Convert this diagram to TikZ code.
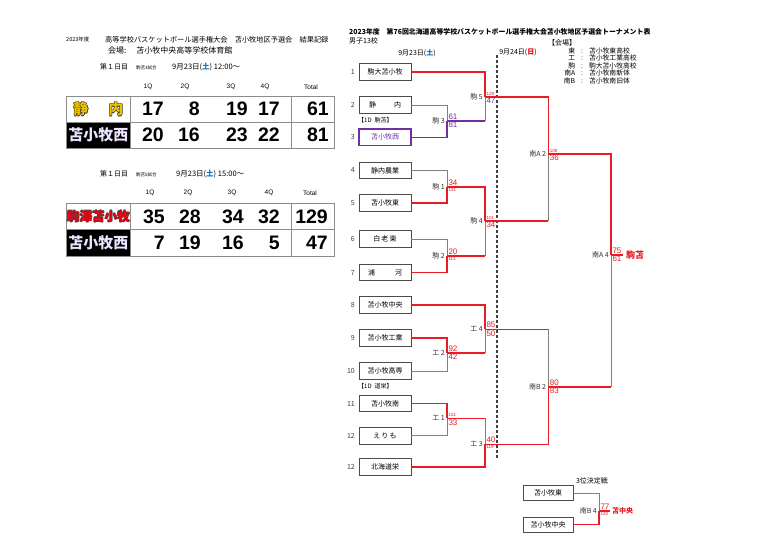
\documentclass[tikz,border=0pt]{standalone}
\usepackage{fontspec}
\setmainfont{Liberation Sans}
\newfontfamily\jp{Noto Sans CJK JP}
\usetikzlibrary{positioning}

\definecolor{winred}{RGB}{232,28,36}
\definecolor{nishi}{RGB}{112,48,160}
\definecolor{nishiwhite}{RGB}{236,228,255}
\definecolor{satblue}{RGB}{0,112,192}
\definecolor{sunred}{RGB}{230,0,18}
\definecolor{shizugold}{RGB}{236,196,0}

% text with a dark rim
\newcommand\rimtext[3]{\leavevmode
  \rlap{\kern-0.6pt\textcolor{#1}{#3}}\rlap{\kern0.6pt\textcolor{#1}{#3}}%
  \rlap{\raisebox{0.6pt}{\textcolor{#1}{#3}}}\rlap{\raisebox{-0.6pt}{\textcolor{#1}{#3}}}%
  \textcolor{#2}{#3}}

\begin{document}
\begin{tikzpicture}[x=1pt, y=-1pt,
    team/.style={draw=black!70, line width=0.7pt, minimum width=52pt, minimum height=16.5pt, inner sep=0pt, font=\jp\fontsize{7}{7}\selectfont},
    seed/.style={anchor=east, inner sep=0pt, font=\jp\fontsize{7}{7}\selectfont, text=black!75},
    gamelbl/.style={anchor=east, inner sep=0pt, font=\jp\fontsize{7}{7}\selectfont, text=black!80},
    note/.style={anchor=west, inner sep=0pt, font=\jp\fontsize{6}{6}\selectfont},
    small/.style={inner sep=0pt, font=\jp\fontsize{7}{7}\selectfont},
    win/.style={draw=winred, line width=1.6pt},
    lose/.style={draw=black!50, line width=0.8pt},
    nishiline/.style={draw=nishi, line width=1.6pt},
    scoreup/.style={anchor=south west, inner sep=0.3pt, xshift=1pt, yshift=0.8pt, font=\fontsize{8}{8}\selectfont, text=winred},
    scoredn/.style={anchor=north west, inner sep=0.3pt, xshift=1pt, yshift=-0.8pt, font=\fontsize{8}{8}\selectfont, text=winred},
    smallsc/.style={font=\fontsize{4.5}{4.5}\selectfont},
    tblline/.style={draw=black!45, line width=0.9pt},
    qhead/.style={inner sep=0pt, font=\fontsize{6.5}{6.5}\selectfont},
    pts/.style={anchor=east, inner sep=0pt, font=\bfseries\fontsize{19.5}{19.5}\selectfont},
    rowname/.style={inner sep=0pt, font=\jp\bfseries\fontsize{15}{15}\selectfont},
    champ/.style={anchor=west, inner sep=0pt, text=winred, font=\jp\bfseries\fontsize{9}{9}\selectfont}]

    \useasboundingbox[fill=white] (0,0) rectangle (782,555);

    % results, left
    \node[anchor=west, inner sep=0pt, font=\jp\fontsize{5.5}{5.5}\selectfont] (year) at (66,39.3) {2023年度};
    \node[anchor=west, inner sep=0pt, font=\jp\fontsize{7.2}{7.2}\selectfont] (meet) at (105,39.3) {高等学校バスケットボール選手権大会　苫小牧地区予選会　結果記録};
    \node[anchor=west, inner sep=0pt, font=\jp\fontsize{8}{8}\selectfont] (hall) at (108,50) {会場:\hspace{10pt}苫小牧中央高等学校体育館};

    \node[anchor=west, inner sep=0pt, font=\jp\fontsize{7}{7}\selectfont] (day1) at (100,67.3) {第１日目};
    \node[anchor=west, inner sep=0pt, font=\jp\fontsize{4.5}{4.5}\selectfont] (no1) at (136,67.8) {駒苫3試合};
    \node[anchor=west, inner sep=0pt, font=\jp\fontsize{7.5}{7.5}\selectfont] (time1) at (172,67.3) {9月23日(\textcolor{satblue}{\textbf{土}}) 12:00〜};
    \node[qhead] (h11) at (148,86.7) {1Q};
    \node[qhead] (h12) at (185,86.7) {2Q};
    \node[qhead] (h13) at (231,86.7) {3Q};
    \node[qhead] (h14) at (265,86.7) {4Q};
    \node[qhead] (h15) at (311,86.7) {Total};
    \fill[black] (66,122) rectangle (130.7,148);
    \draw[tblline] (66,96) rectangle (334,148);
    \draw[tblline] (66,122) -- (334,122);
    \draw[tblline] (130.7,96) -- (130.7,148);
    \draw[tblline] (291,96) -- (291,148);
    \node[rowname] (r11) at (98.4,109) {\rimtext{black!85}{shizugold}{静\hspace{20pt}内}};
    \node[rowname] (r12) at (98.4,135) {\textcolor{nishiwhite}{苫小牧西}};
    \node[pts] (v111) at (164,109) {17};
    \node[pts] (v112) at (200,109) {8};
    \node[pts] (v113) at (248,109) {19};
    \node[pts] (v114) at (280,109) {17};
    \node[pts] (v115) at (329,109) {61};
    \node[pts] (v121) at (164,135) {20};
    \node[pts] (v122) at (200,135) {16};
    \node[pts] (v123) at (248,135) {23};
    \node[pts] (v124) at (280,135) {22};
    \node[pts] (v125) at (329,135) {81};

    \node[anchor=west, inner sep=0pt, font=\jp\fontsize{7}{7}\selectfont] (day2) at (100,174) {第１日目};
    \node[anchor=west, inner sep=0pt, font=\jp\fontsize{4.5}{4.5}\selectfont] (no2) at (136,174.5) {駒苫5試合};
    \node[anchor=west, inner sep=0pt, font=\jp\fontsize{7.5}{7.5}\selectfont] (time2) at (176,174) {9月23日(\textcolor{satblue}{\textbf{土}}) 15:00〜};
    \node[qhead] (h21) at (150,193.3) {1Q};
    \node[qhead] (h22) at (188,193.3) {2Q};
    \node[qhead] (h23) at (232,193.3) {3Q};
    \node[qhead] (h24) at (269,193.3) {4Q};
    \node[qhead] (h25) at (310,193.3) {Total};
    \fill[black] (66,229.5) rectangle (130.7,256);
    \draw[tblline] (66,203) rectangle (334,256);
    \draw[tblline] (66,229.5) -- (334,229.5);
    \draw[tblline] (130.7,203) -- (130.7,256);
    \draw[tblline] (291,203) -- (291,256);
    \node[rowname, font=\jp\bfseries\fontsize{12.6}{12.6}\selectfont] (r21) at (98.4,216.3) {\rimtext{black!70}{sunred}{駒澤苫小牧}};
    \node[rowname] (r22) at (98.4,242.7) {\textcolor{nishiwhite}{苫小牧西}};
    \node[pts] (v211) at (165,216.3) {35};
    \node[pts] (v212) at (201,216.3) {28};
    \node[pts] (v213) at (244,216.3) {34};
    \node[pts] (v214) at (280,216.3) {32};
    \node[pts] (v215) at (328,216.3) {129};
    \node[pts] (v221) at (165,242.7) {7};
    \node[pts] (v222) at (201,242.7) {19};
    \node[pts] (v223) at (244,242.7) {16};
    \node[pts] (v224) at (280,242.7) {5};
    \node[pts] (v225) at (328,242.7) {47};

    % bracket, right
    \node[anchor=west, inner sep=0pt, font=\jp\bfseries\fontsize{6.9}{6.9}\selectfont] (title) at (349,31.7) {2023年度　第76回北海道高等学校バスケットボール選手権大会苫小牧地区予選会トーナメント表};
    \node[anchor=west, small] (boys) at (349,40.7) {男子13校};
    \node[small] (date1) at (417,52.7) {9月23日(\textcolor{satblue}{\textbf{土}})};
    \node[small] (date2) at (518,52.7) {9月24日(\textcolor{sunred}{\textbf{日}})};
    \node[small] (venue) at (562,42.7) {【会場】};
    \node[anchor=north west, align=left, inner sep=0pt, font=\jp\fontsize{6.8}{7.4}\selectfont] (venues) at (563,47.6)
      {\makebox[12pt][r]{東}\hspace{6pt}:\hspace{6pt}苫小牧東高校\\
       \makebox[12pt][r]{工}\hspace{6pt}:\hspace{6pt}苫小牧工業高校\\
       \makebox[12pt][r]{駒}\hspace{6pt}:\hspace{6pt}駒大苫小牧高校\\
       \makebox[12pt][r]{南A}\hspace{6pt}:\hspace{6pt}苫小牧南新体\\
       \makebox[12pt][r]{南B}\hspace{6pt}:\hspace{6pt}苫小牧南旧体};
    \draw[black!75, line width=1.6pt, dash pattern=on 3pt off 2pt] (497,55) -- (497,458);

    \node[team] (t1) at (385,71.7) {駒大苫小牧};
    \node[team] (t2) at (385,105) {静\hspace{18pt}内};
    \node[team, draw=nishi, line width=1.6pt, text=nishi] (t3) at (385,137.3) {苫小牧西};
    \node[team] (t4) at (385,170.5) {静内農業};
    \node[team] (t5) at (385,202.7) {苫小牧東};
    \node[team] (t6) at (385,239) {白\,老\,東};
    \node[team] (t7) at (385,272.5) {浦\hspace{20pt}河};
    \node[team] (t8) at (385,305) {苫小牧中央};
    \node[team] (t9) at (385,338) {苫小牧工業};
    \node[team] (t10) at (385,371) {苫小牧高専};
    \node[team] (t11) at (385,403.5) {苫小牧南};
    \node[team] (t12) at (385,435.7) {え\,り\,も};
    \node[team] (t13) at (385,466.7) {北海道栄};
    \node[seed] (n1) at (355,71.7) {1};
    \node[seed] (n2) at (355,105) {2};
    \node[seed] (n3) at (355,137.3) {3};
    \node[seed] (n4) at (355,170.5) {4};
    \node[seed] (n5) at (355,202.7) {5};
    \node[seed] (n6) at (355,239) {6};
    \node[seed] (n7) at (355,272.5) {7};
    \node[seed] (n8) at (355,305) {8};
    \node[seed] (n9) at (355,338) {9};
    \node[seed] (n10) at (355,371) {10};
    \node[seed] (n11) at (355,403.5) {11};
    \node[seed] (n12) at (355,435.7) {12};
    \node[seed] (n13) at (355,466.7) {12};
    \node[note] (seed1) at (358,120.7) {【1D\hspace{3pt}駒苫】};
    \node[note] (seed2) at (358,386.7) {【1D\hspace{3pt}道栄】};

    \coordinate (k3) at (447,120.7);
    \coordinate (k1) at (447,187);
    \coordinate (k2) at (447,256);
    \coordinate (k5) at (485,96.7);
    \coordinate (k4) at (485,221);
    \coordinate (e2) at (447,353);
    \coordinate (e1) at (447,418.3);
    \coordinate (e4) at (485,329.3);
    \coordinate (e3) at (485,444.3);
    \coordinate (a2) at (548.3,154);
    \coordinate (b2) at (548.3,386.7);
    \coordinate (a4) at (611,255);
    \coordinate (a4end) at (623,255);

    \draw[lose] (t2.east) -| (k3);
    \draw[lose] (k3 -| k5) -- (k5);
    \draw[lose] (t4.east) -| (k1);
    \draw[lose] (t6.east) -| (k2);
    \draw[lose] (k2 -| k4) -- (k4);
    \draw[lose] (k4 -| a2) -- (a2);
    \draw[lose] (t10.east) -| (e2);
    \draw[lose] (e2 -| e4) -- (e4);
    \draw[lose] (e4 -| b2) -- (b2);
    \draw[lose] (t12.east) -| (e1);
    \draw[lose] (e1 -| e3) -- (e3);
    \draw[lose] (b2 -| a4) -- (a4);
    \draw[nishiline] (t3.east) -| (k3);
    \draw[nishiline] (k3) -- (k3 -| k5);
    \draw[win] (t1.east) -| (k5);
    \draw[win] (k5) -| (a2);
    \draw[win] (t5.east) -| (k1);
    \draw[win] (k1) -| (k4);
    \draw[win] (t7.east) -| (k2);
    \draw[win] (k2) -- (k2 -| k4);
    \draw[win] (k4) -- (k4 -| a2);
    \draw[win] (a2) -| (a4);
    \draw[win] (a4) -- (a4end);
    \draw[win] (t8.east) -| (e4);
    \draw[win] (t9.east) -| (e2);
    \draw[win] (e2) -- (e2 -| e4);
    \draw[win] (e4) -- (e4 -| b2);
    \draw[win] (t11.east) -| (e1);
    \draw[win] (e1) -- (e1 -| e3);
    \draw[win] (t13.east) -| (e3);
    \draw[win] (e3) -| (b2);
    \draw[win] (b2) -- (b2 -| a4);

    \node[gamelbl] (g3) at ([xshift=-2pt]k3) {駒 3};
    \node[gamelbl] (g1) at ([xshift=-2pt]k1) {駒 1};
    \node[gamelbl] (g2) at ([xshift=-2pt]k2) {駒 2};
    \node[gamelbl] (g5) at ([xshift=-2pt]k5) {駒 5};
    \node[gamelbl] (g4) at ([xshift=-2pt]k4) {駒 4};
    \node[gamelbl] (f2) at ([xshift=-2pt]e2) {工 2};
    \node[gamelbl] (f1) at ([xshift=-2pt]e1) {工 1};
    \node[gamelbl] (f4) at ([xshift=-2pt]e4) {工 4};
    \node[gamelbl] (f3) at ([xshift=-2pt]e3) {工 3};
    \node[gamelbl] (ga2) at ([xshift=-2pt]a2) {南A 2};
    \node[gamelbl] (gb2) at ([xshift=-2pt]b2) {南B 2};
    \node[gamelbl] (ga4) at ([xshift=-2pt]a4) {南A 4};

    \node[scoreup, text=nishi] (s3a) at (k3) {61};
    \node[scoredn, text=nishi] (s3b) at (k3) {81};
    \node[scoreup] (s1a) at (k1) {34};
    \node[scoredn, smallsc] (s1b) at (k1) {131};
    \node[scoreup] (s2a) at (k2) {20};
    \node[scoredn, smallsc] (s2b) at (k2) {113};
    \node[scoreup, smallsc] (s5a) at (k5) {129};
    \node[scoredn, text=nishi] (s5b) at (k5) {47};
    \node[scoreup, smallsc] (s4a) at (k4) {101};
    \node[scoredn] (s4b) at (k4) {34};
    \node[scoreup] (u2a) at (e2) {92};
    \node[scoredn] (u2b) at (e2) {42};
    \node[scoreup, smallsc] (u1a) at (e1) {151};
    \node[scoredn] (u1b) at (e1) {33};
    \node[scoreup] (u4a) at (e4) {85};
    \node[scoredn] (u4b) at (e4) {50};
    \node[scoreup] (u3a) at (e3) {40};
    \node[scoredn, smallsc] (u3b) at (e3) {119};
    \node[scoreup, smallsc] (sa2a) at (a2) {108};
    \node[scoredn] (sa2b) at (a2) {36};
    \node[scoreup] (sb2a) at (b2) {80};
    \node[scoredn] (sb2b) at (b2) {83};
    \node[scoreup] (sa4a) at (a4) {75};
    \node[scoredn] (sa4b) at (a4) {61};
    \node[champ] (champ) at ([xshift=3pt]a4end) {駒苫};

    % 3rd place
    \node[small] (third) at (592,480.7) {3位決定戦};
    \node[team, minimum width=50pt, minimum height=15pt] (p1) at (548,493) {苫小牧東};
    \node[team, minimum width=50pt, minimum height=15pt] (p2) at (548,524.6) {苫小牧中央};
    \coordinate (b4) at (599,510.7);
    \coordinate (b4end) at (610,510.7);
    \draw[lose] (p1.east) -| (b4);
    \draw[win] (p2.east) -| (b4);
    \draw[win] (b4) -- (b4end);
    \node[gamelbl] (gb4) at ([xshift=-2pt]b4) {南B 4};
    \node[scoreup] (sb4a) at (b4) {77};
    \node[scoredn, smallsc] (sb4b) at (b4) {120};
    \node[champ, font=\jp\bfseries\fontsize{7}{7}\selectfont] (third1) at ([xshift=2pt]b4end) {苫中央};
\end{tikzpicture}
\end{document}
